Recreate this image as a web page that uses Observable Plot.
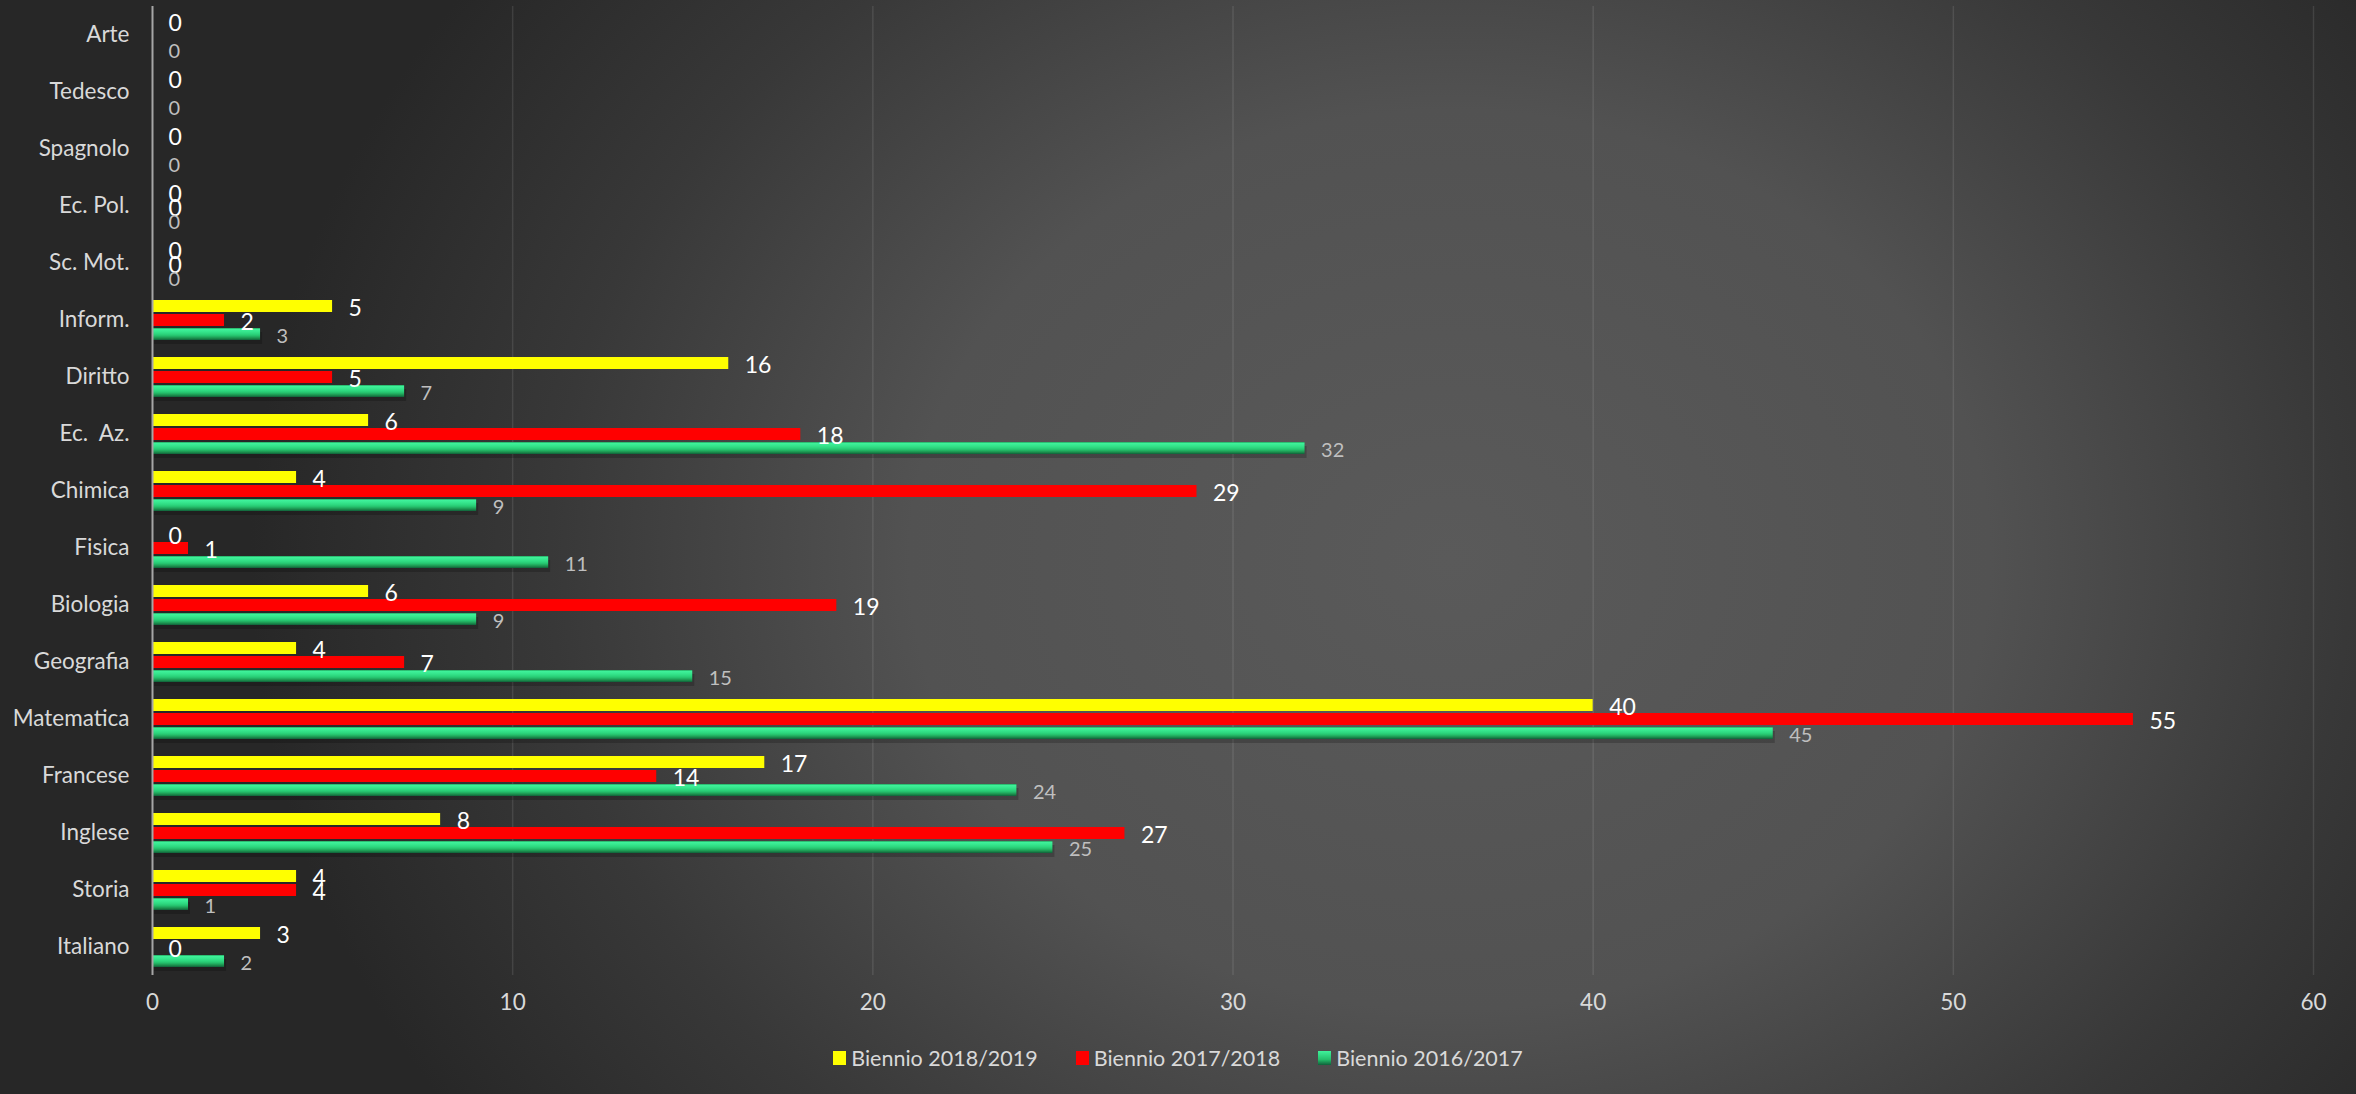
<!DOCTYPE html>
<html>
<head>
<meta charset="utf-8">
<script src="https://cdn.jsdelivr.net/npm/d3@7"></script>
<script src="https://cdn.jsdelivr.net/npm/@observablehq/plot@0.6"></script>
<style>
  html, body { margin: 0; padding: 0; }
  body {
    width: 2356px; height: 1094px; overflow: hidden;
    background: radial-gradient(ellipse 1200px 1000px at 1450px 560px, #5a5a5a 0%, #525252 45%, #383838 75%, #272727 100%);
    font-family: Lato, "Open Sans", sans-serif;
  }
  #chart { height: 1030px; }
  svg text { white-space: pre; }
  #legend {
    height: 56px; display: flex; justify-content: center; align-items: center;
    gap: 38px; color: #d9d9d9; font-size: 21.5px;
  }
  #legend .item { display: flex; align-items: center; }
  #legend .sw { width: 13px; height: 14px; margin-right: 5px; }
</style>
</head>
<body>
<div id="chart"></div>
<div id="legend"></div>
<script>
const categories = ["Arte","Tedesco","Spagnolo","Ec. Pol.","Sc. Mot.","Inform.","Diritto","Ec.  Az.","Chimica","Fisica","Biologia","Geografia","Matematica","Francese","Inglese","Storia","Italiano"];
const series = ["Biennio 2018/2019","Biennio 2017/2018","Biennio 2016/2017"];
const values2018_2019 = [0,0,0,0,0,5,16,6,4,0,6,4,40,17,8,4,3];
const values2017_2018 = [null,null,null,0,0,2,5,18,29,1,19,7,55,14,27,4,0];
const values2016_2017 = [0,0,0,0,0,3,7,32,9,11,9,15,45,24,25,1,2];
const xTicks = [0,10,20,30,40,50,60];
const seriesColors = ["#ffff00","#ff0000","url(#greenGrad)"];

const allValues = [values2018_2019, values2017_2018, values2016_2017];
const rows = [];
categories.forEach((cat, i) => {
  series.forEach((s, j) => {
    const v = allValues[j][i];
    if (v !== null && v !== undefined) rows.push({cat, series: s, value: v, k: j});
  });
});
const r0 = rows.filter(d => d.k === 0);
const r1 = rows.filter(d => d.k === 1);
const r2 = rows.filter(d => d.k === 2);

const common = {x: "value", y: "series", fy: "cat"};

const chart = Plot.plot({
  width: 2356,
  height: 1030,
  marginLeft: 152,
  marginRight: 43,
  marginTop: 5,
  marginBottom: 55,
  style: {fontFamily: "Lato, 'Open Sans', sans-serif", fontSize: "22.5px", color: "#d9d9d9", background: "transparent"},
  x: {domain: [0, 60], ticks: xTicks, tickSize: 0, tickPadding: 19, label: null, tickFormat: d => String(d)},
  y: {domain: series, paddingInner: 0.167, paddingOuter: 0.485, axis: null},
  fy: {domain: categories, padding: 0, axis: "left", label: null, tickSize: 0, tickPadding: 23},
  marks: [
    Plot.ruleX(xTicks.slice(1), {stroke: "#ffffff", strokeOpacity: 0.1, strokeWidth: 1.5}),
    Plot.barX(r2, {...common, fill: "#000", fillOpacity: 0.2, dy: 4, dx: 2}),
    Plot.barX(r0, {...common, fill: seriesColors[0]}),
    Plot.barX(r1, {...common, fill: seriesColors[1]}),
    Plot.barX(r2, {...common, fill: seriesColors[2]}),
    Plot.ruleX([0], {stroke: "#a6a6a6", strokeWidth: 2}),
    Plot.text(r0, {...common, text: d => String(d.value), textAnchor: "start", dx: 16, dy: 2, fill: "#ffffff", fontSize: 23}),
    Plot.text(r1, {...common, text: d => String(d.value), textAnchor: "start", dx: 16, dy: 2, fill: "#ffffff", fontSize: 23}),
    Plot.text(r2, {...common, text: d => String(d.value), textAnchor: "start", dx: 16, dy: 2, fill: "#bfbfbf", fontSize: 20})
  ]
});

// gradient for the beveled green bars
const ns = "http://www.w3.org/2000/svg";
const svg = chart.tagName.toLowerCase() === "svg" ? chart : chart.querySelector("svg");
const defs = document.createElementNS(ns, "defs");
const grad = document.createElementNS(ns, "linearGradient");
grad.setAttribute("id", "greenGrad");
grad.setAttribute("x1", "0"); grad.setAttribute("y1", "0");
grad.setAttribute("x2", "0"); grad.setAttribute("y2", "1");
[["0%","#1f9a55"],["10%","#3ff29b"],["30%","#36e68d"],["50%","#2cd67d"],["65%","#25c06c"],["85%","#1b8f4d"],["100%","#10603a"]].forEach(([o,c]) => {
  const s = document.createElementNS(ns, "stop");
  s.setAttribute("offset", o); s.setAttribute("stop-color", c);
  grad.appendChild(s);
});
defs.appendChild(grad);
svg.insertBefore(defs, svg.firstChild);

document.getElementById("chart").appendChild(chart);

// legend
const legend = document.getElementById("legend");
const swatchBg = ["#ffff00", "#ff0000", "linear-gradient(#3ff29b, #25c06c 60%, #10603a)"];
series.forEach((s, j) => {
  const item = document.createElement("div");
  item.className = "item";
  const sw = document.createElement("div");
  sw.className = "sw";
  sw.style.background = swatchBg[j];
  const t = document.createElement("span");
  t.textContent = s;
  item.appendChild(sw); item.appendChild(t);
  legend.appendChild(item);
});
</script>
</body>
</html>
